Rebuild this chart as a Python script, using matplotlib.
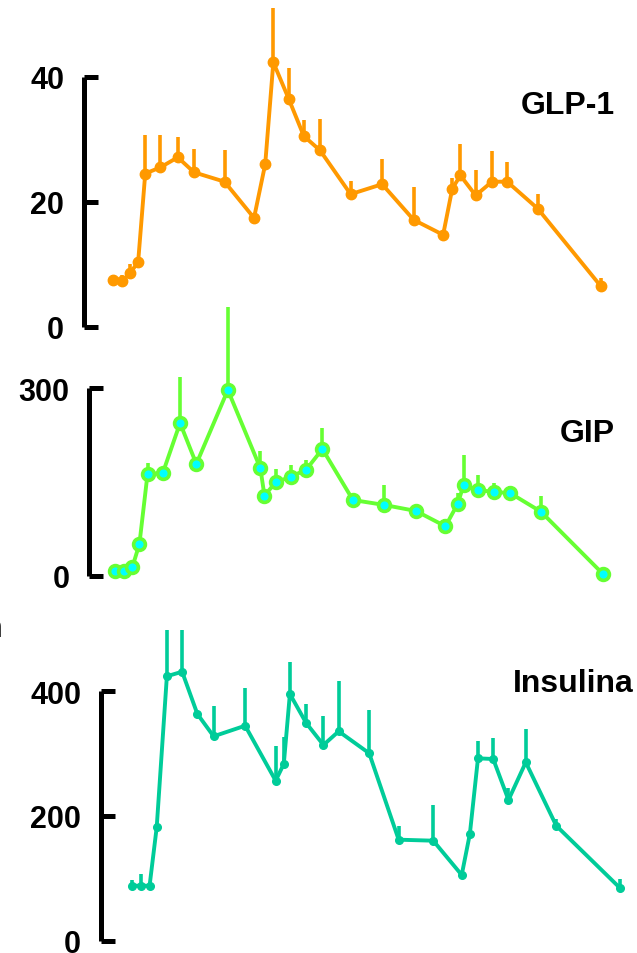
import numpy as np
import matplotlib
matplotlib.use('Agg')
import matplotlib.pyplot as plt

plt.rcParams['font.family'] = ['Liberation Sans', 'DejaVu Sans']
plt.rcParams['font.weight'] = 'bold'

# time points (min) per panel
t_glp = [0, 9, 17, 25, 32, 47, 64, 80, 110, 139, 150, 158, 173, 188, 204,
         234, 265, 296, 325, 334, 342, 357, 373, 388, 418, 480]
glp = [7.4, 7.3, 8.6, 10.3, 24.5, 25.5, 27.1, 24.7, 23.2, 17.4, 26.0, 42.3, 36.5,
       30.5, 28.2, 21.2, 22.8, 17.1, 14.7, 22.1, 24.2, 21.0, 23.2, 23.2, 18.9, 6.5]
glp_err = [0.8, 0.9, 1.4, 0.0, 6.1, 5.1, 3.3, 3.7, 5.1, 0.0, 0.0, 8.7, 4.9,
           2.5, 5.0, 2.1, 4.0, 5.2, 0.0, 1.7, 5.1, 4.1, 4.9, 3.2, 2.3, 1.3]

t_gip = [0, 9, 17, 24, 32, 47, 64, 80, 111, 143, 147, 158, 173, 188, 204,
         234, 265, 296, 325, 337, 343, 357, 373, 389, 419, 480]
gip = [7.0, 7.0, 13.4, 50.7, 162.8, 164.4, 244.4, 178.9, 297.3, 171.9, 128.1,
       149.5, 158.5, 169.7, 202.8, 121.2, 113.2, 103.6, 79.1, 114.8, 145.7,
       136.7, 134.5, 131.9, 102.4, 2.7]
gip_err = [0, 0, 0, 0, 17, 0, 73, 0, 133, 27, 0, 22, 19, 16, 34, 0, 32, 0,
           12, 18, 48, 25, 13.5, 12, 25, 0]

t_ins = [0, 9, 17, 24, 34, 49, 64, 80, 111, 141, 149, 155, 171, 188, 203,
         233, 262, 296, 324, 332, 340, 355, 370, 387, 417, 480]
ins = [88.2, 88.2, 88.2, 181.9, 424.1, 431.4, 363.6, 327.8, 344.8, 256.6,
       283.4, 395.7, 349.2, 313.9, 335.8, 300.6, 162.0, 160.4, 105.4, 171.1,
       292.5, 291.4, 225.7, 286.1, 184.4, 84.0]
ins_err = [9, 18, 0, 0, 75, 80, 0, 49, 60, 55, 43, 52, 30, 47, 80, 69, 22,
           57, 0, 0, 27, 34, 20, 54, 11, 15]

W, H = 637, 954
PXM = 1.0167  # px per minute

fig = plt.figure(figsize=(W / 100, H / 100), dpi=100)


def make_axes(spine_x, first_x, y0_px, ytop_val, ytop_px, ybot_px, ymax, ticks):
    # pixel scale along y
    ppu = (y0_px - ytop_px) / ytop_val
    ylo = -(ybot_px - y0_px) / ppu
    yhi = y0_px / ppu if ymax is None else ymax
    top_px = y0_px - yhi * ppu
    ax = fig.add_axes([spine_x / W, 1 - ybot_px / H, (W - spine_x) / W,
                       (ybot_px - top_px) / H])
    ax.set_xlim((spine_x - first_x) / PXM, (W - first_x) / PXM)
    ax.set_ylim(ylo, yhi)
    for s in ['top', 'right', 'bottom']:
        ax.spines[s].set_visible(False)
    ax.spines['left'].set_linewidth(3.6)
    ax.spines['left'].set_bounds(0, ticks[-1])
    ax.spines['left'].set_capstyle('butt')
    ax.set_xticks([])
    ax.set_yticks(ticks)
    ax.tick_params(axis='y', direction='in', length=10, width=3.6,
                   labelsize=22, pad=14)
    ax.patch.set_visible(False)
    return ax


# GLP-1
ax1 = make_axes(83.5, 112.7, 327.7, 40, 77.7, 345, None, [0, 20, 40])
ax1.errorbar(t_glp, glp, yerr=[np.zeros(len(glp)), glp_err], color='#FF9900',
             lw=2.8, marker='o', ms=7.5, elinewidth=2.6, capsize=0)

# GIP
ax2 = make_axes(89, 115, 576.7, 300, 389.3, 600, None, [0, 300])
ax2.errorbar(t_gip, gip, yerr=[np.zeros(len(gip)), gip_err], color='#66FF33',
             lw=2.8, marker='o', ms=8.5, mfc='#00FFFF', mec='#66FF33', mew=2.6,
             elinewidth=2.6, capsize=0)

# Insulina
ax3 = make_axes(100.5, 132.3, 941.7, 400, 692.3, 960, 498, [0, 200, 400])
ax3.errorbar(t_ins, ins, yerr=[np.zeros(len(ins)), ins_err], color='#00CC99',
             lw=2.8, marker='o', ms=5.5, elinewidth=2.6, capsize=0)

fig.text(615 / W, 1 - 106 / H, 'GLP-1', fontsize=23, ha='right', va='center')
fig.text(615 / W, 1 - 434 / H, 'GIP', fontsize=23, ha='right', va='center')
fig.text(634 / W, 1 - 684 / H, 'Insulina', fontsize=23, ha='right', va='center')
fig.text(2 / W, 1 - 629 / H, 'n', fontsize=22, ha='right', va='center')

fig.savefig('out.png', dpi=100)
